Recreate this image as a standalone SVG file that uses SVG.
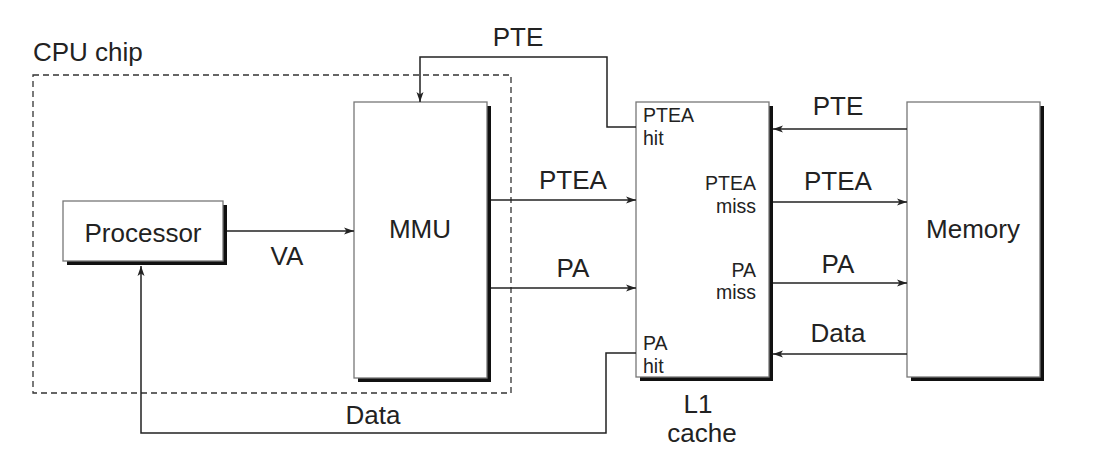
<svg xmlns="http://www.w3.org/2000/svg" width="1093" height="462" viewBox="0 0 1093 462">
<defs>
<marker id="ah" markerUnits="userSpaceOnUse" markerWidth="11" markerHeight="8" refX="10" refY="4" orient="auto">
<path d="M0,0.5 L10,4 L0,7.5 L2.5,4 z" fill="#222"/>
</marker>
<style>
.sh{fill:#111;stroke:none}
.bx{fill:#fff;stroke:#777;stroke-width:1.3}
.ln{fill:none;stroke:#222;stroke-width:1.5}
.big{font-family:"Liberation Sans",Arial,sans-serif;font-size:26px;fill:#222}
.sm{font-family:"Liberation Sans",Arial,sans-serif;font-size:19.5px;fill:#222}
.mid{text-anchor:middle}
.end{text-anchor:end}
</style>
</defs>
<rect width="1093" height="462" fill="#fff"/>
<g id="cpu-chip">
<rect x="33" y="75" width="478" height="318" fill="none" stroke="#333" stroke-width="1.3" stroke-dasharray="6,4"/>
<text class="big" x="33" y="61">CPU chip</text>
</g>
<g id="processor">
<rect class="sh" x="67" y="205" width="160" height="60"/>
<rect class="bx" x="63" y="201" width="160" height="60"/>
<text class="big mid" x="143" y="242">Processor</text>
</g>
<g id="mmu">
<rect class="sh" x="358" y="106" width="133" height="276"/>
<rect class="bx" x="354" y="102" width="133" height="276"/>
<text class="big mid" x="420" y="238">MMU</text>
</g>
<g id="l1-cache">
<rect class="sh" x="640" y="106" width="133" height="275"/>
<rect class="bx" x="636" y="102" width="133" height="275"/>
<text class="sm" x="643" y="122">PTEA</text>
<text class="sm" x="643" y="145">hit</text>
<text class="sm end" x="756" y="190">PTEA</text>
<text class="sm end" x="756" y="213">miss</text>
<text class="sm end" x="756" y="277">PA</text>
<text class="sm end" x="756" y="299">miss</text>
<text class="sm" x="643" y="350">PA</text>
<text class="sm" x="643" y="373">hit</text>
<text class="big mid" x="698" y="413">L1</text>
<text class="big mid" x="702" y="442">cache</text>
</g>
<g id="memory">
<rect class="sh" x="911" y="106" width="133" height="275"/>
<rect class="bx" x="907" y="102" width="133" height="275"/>
<text class="big mid" x="973" y="238">Memory</text>
</g>
<g id="connectors">
<path class="ln" d="M227,231 H354" marker-end="url(#ah)"/>
<path class="ln" d="M491,200 H636" marker-end="url(#ah)"/>
<path class="ln" d="M491,288 H636" marker-end="url(#ah)"/>
<path class="ln" d="M636,127 H607 V57 H420 V102" marker-end="url(#ah)"/>
<path class="ln" d="M636,353 H606 V433 H141 V266" marker-end="url(#ah)"/>
<path class="ln" d="M907,129 H773" marker-end="url(#ah)"/>
<path class="ln" d="M773,202 H907" marker-end="url(#ah)"/>
<path class="ln" d="M773,283 H907" marker-end="url(#ah)"/>
<path class="ln" d="M907,354 H773" marker-end="url(#ah)"/>
</g>
<g id="labels">
<text class="big mid" x="518" y="46">PTE</text>
<text class="big mid" x="573" y="189">PTEA</text>
<text class="big mid" x="573" y="277">PA</text>
<text class="big mid" x="287" y="265">VA</text>
<text class="big mid" x="373" y="424">Data</text>
<text class="big mid" x="838" y="115">PTE</text>
<text class="big mid" x="838" y="190">PTEA</text>
<text class="big mid" x="838" y="273">PA</text>
<text class="big mid" x="838" y="342">Data</text>
</g>
</svg>
